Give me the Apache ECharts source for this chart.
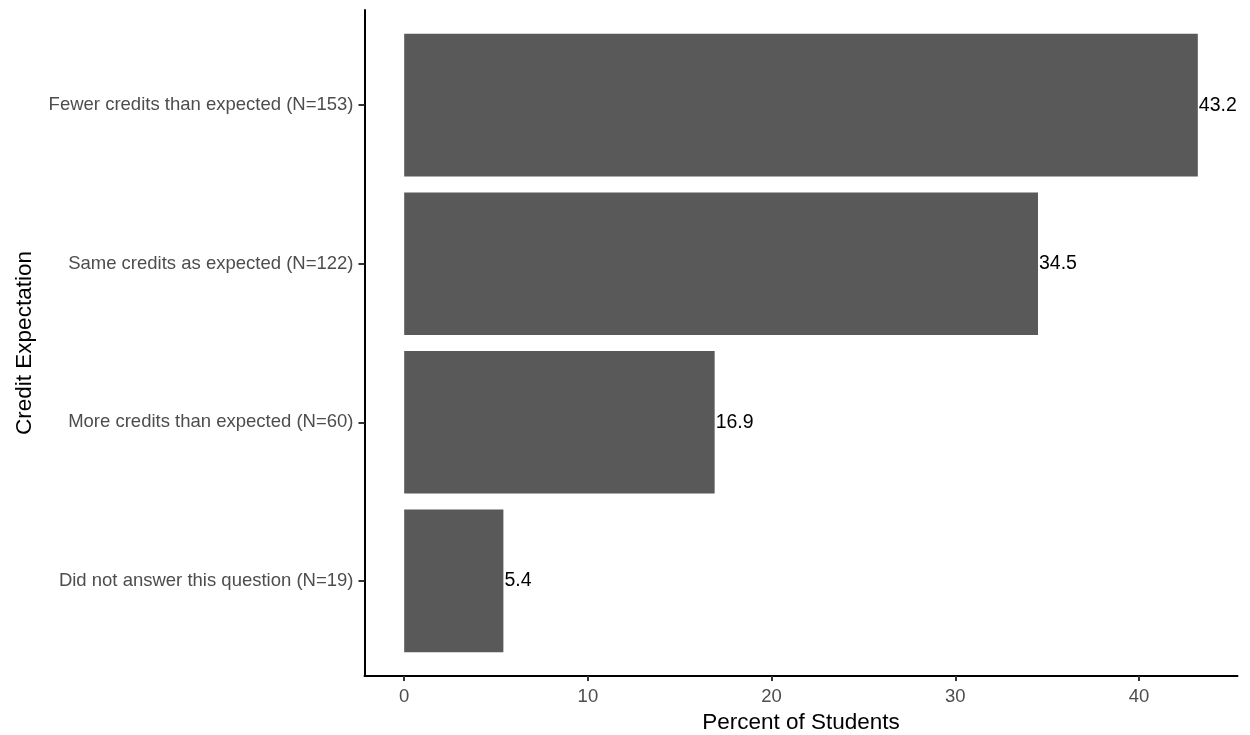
<!DOCTYPE html>
<html>
<head>
<meta charset="utf-8">
<script src="https://cdn.jsdelivr.net/npm/echarts@6/dist/echarts.min.js"></script>
<style>
html,body{margin:0;padding:0;background:#fff;}
#chart{width:1250px;height:735px;}
</style>
</head>
<body>
<div id="chart"></div>
<script>
const categories = [
  'Fewer credits than expected (N=153)',
  'Same credits as expected (N=122)',
  'More credits than expected (N=60)',
  'Did not answer this question (N=19)'
];
const percents = [43.2, 34.5, 16.9, 5.4];
const xTicks = [0, 10, 20, 30, 40];

const FONT = '"Liberation Sans", Arial, sans-serif';
const maxVal = Math.max(...percents);
const xMin = -0.05 * maxVal;
const xMax = maxVal * 1.05;

const chart = echarts.init(document.getElementById('chart'), null, {renderer: 'canvas'});
chart.setOption({
  animation: false,
  backgroundColor: '#ffffff',
  textStyle: {fontFamily: FONT},
  grid: [
    {left: 364.5, right: 12.5, top: 10, bottom: 59, outerBoundsMode: 'none', containLabel: false},
    {left: 364.5, right: 12.5, top: 25.9, bottom: 74.9, outerBoundsMode: 'none', containLabel: false}
  ],
  xAxis: [
    {
      type: 'value', gridIndex: 0, min: xMin, max: xMax,
      axisLine: {show: true, onZero: false, lineStyle: {color: '#000', width: 2}},
      axisTick: {show: true, customValues: xTicks, length: 5, lineStyle: {color: '#333', width: 2}},
      axisLabel: {show: true, customValues: xTicks, margin: 11, color: '#4d4d4d', fontSize: 18.5, fontFamily: FONT},
      splitLine: {show: false},
      name: 'Percent of Students', nameLocation: 'middle', nameGap: 33,
      nameTextStyle: {color: '#000', fontSize: 22.5, fontFamily: FONT}
    },
    {
      type: 'value', gridIndex: 1, min: xMin, max: xMax, show: false,
      splitLine: {show: false}
    }
  ],
  yAxis: [
    {
      type: 'value', gridIndex: 0, min: 0, max: 1,
      axisLine: {show: true, onZero: false, lineStyle: {color: '#000', width: 2}},
      axisTick: {show: false}, axisLabel: {show: false}, splitLine: {show: false},
      name: 'Credit Expectation', nameLocation: 'middle', nameGap: 328, nameRotate: 90,
      nameTextStyle: {color: '#000', fontSize: 22.5, fontFamily: FONT}
    },
    {
      type: 'category', gridIndex: 1, data: categories, inverse: true,
      axisLine: {show: false, onZero: false},
      axisTick: {show: true, alignWithLabel: true, length: 6, lineStyle: {color: '#333', width: 2}},
      axisLabel: {show: true, margin: 11, color: '#4d4d4d', fontSize: 18.5, fontFamily: FONT},
      splitLine: {show: false}
    }
  ],
  series: [{
    type: 'bar', xAxisIndex: 1, yAxisIndex: 1,
    data: percents, barWidth: '90%',
    itemStyle: {color: '#595959'},
    label: {show: true, position: 'right', distance: 1, color: '#000', fontSize: 19.5, fontFamily: FONT,
      formatter: p => p.value.toFixed(1)}
  }]
});
</script>
</body>
</html>
